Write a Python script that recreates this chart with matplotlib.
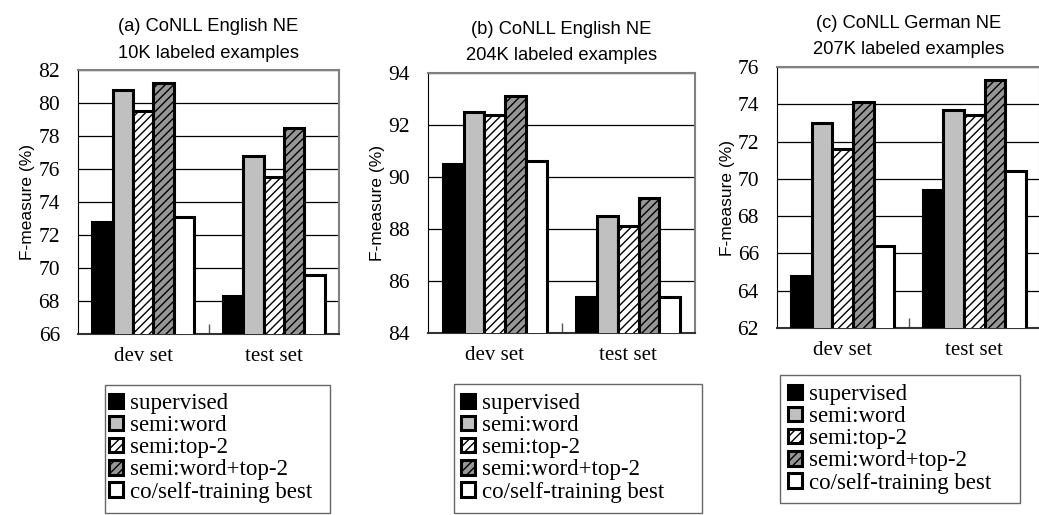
import numpy as np
import matplotlib
matplotlib.use("Agg")
import matplotlib.pyplot as plt
from matplotlib.patches import Patch, Rectangle

plt.rcParams['hatch.linewidth'] = 1.0

groups = ["dev set", "test set"]
series = ["supervised", "semi:word", "semi:top-2", "semi:word+top-2", "co/self-training best"]

# F-measure values per panel: rows follow `series`, columns follow `groups`
eng10k = [[72.8, 68.3], [80.8, 76.8], [79.5, 75.5], [81.2, 78.5], [73.1, 69.6]]
eng204k = [[90.5, 85.4], [92.5, 88.5], [92.4, 88.1], [93.1, 89.2], [90.6, 85.4]]
ger207k = [[64.8, 69.4], [73.0, 73.7], [71.6, 73.4], [74.1, 75.3], [66.4, 70.4]]

titles = ["(a) CoNLL English NE\n10K labeled examples",
          "(b) CoNLL English NE\n204K labeled examples",
          "(c) CoNLL German NE\n207K labeled examples"]
yticks_list = [list(range(66, 83, 2)), list(range(84, 95, 2)), list(range(62, 77, 2))]

fills = ["black", "#c0c0c0", "white", "#969696", "white"]
hatches = [None, None, "////", "////", None]

W, H = 1039, 515
fig = plt.figure(figsize=(W / 100, H / 100), dpi=100)

# axes boxes in pixels: left, top, right, bottom
boxes = [(78, 70, 339, 334), (428, 73, 695, 333), (777, 67, 1040, 328)]
# legend frames in pixels: left, top, right, bottom
legend_boxes = [(105, 385, 330, 513), (454, 384, 702, 513), (780, 375, 1020, 503)]
legend_first = [(109, 393), (461, 393), (788, 384)]

serif = "Liberation Serif"
sans = "Liberation Sans"

for k, (data, title, yt) in enumerate(zip([eng10k, eng204k, ger207k], titles, yticks_list)):
    l, t, r, b = boxes[k]
    ax = fig.add_axes([l / W, 1 - b / H, (r - l) / W, (b - t) / H])
    x = np.arange(len(groups))
    bw = 0.156
    for i, name in enumerate(series):
        vals = [data[i][j] for j in range(len(groups))]
        ax.bar(x + (i - 2) * bw, vals, width=bw, color=fills[i],
               hatch=hatches[i], edgecolor="black", linewidth=2.2, zorder=3,
               label=name)
    ax.set_ylim(yt[0], yt[-1])
    ax.set_xlim(-0.5, 1.5)
    ax.set_yticks(yt)
    ax.set_yticklabels([str(v) for v in yt], fontfamily=serif, fontsize=15.5)
    ax.yaxis.grid(True, color="black", linewidth=0.9, zorder=0)
    ax.set_xticks([0.5])
    ax.set_xticklabels([""])
    ax.tick_params(axis="x", direction="in", length=7, width=1, color="#555555")
    ax.tick_params(axis="y", length=0, pad=13)
    for j, g in enumerate(groups):
        ax.text(j, -0.085, g, transform=ax.get_xaxis_transform(), ha="center",
                va="center", fontfamily=serif, fontsize=15)
    ax.set_ylabel("F-measure (%)", fontfamily=sans, fontsize=12.5, labelpad=2)
    ax.set_title(title, fontfamily=sans, fontsize=13.2, linespacing=1.7, pad=9)
    ax.spines["top"].set_color("#808080")
    ax.spines["right"].set_color("#808080")
    ax.spines["top"].set_linewidth(1.5)
    ax.spines["right"].set_linewidth(1.5)
    ax.spines["left"].set_color("black")
    ax.spines["bottom"].set_color("#333333")
    ax.spines["bottom"].set_linewidth(1.5)
    ax.set_axisbelow(True)

    ll, lt, lr, lb = legend_boxes[k]
    fig.add_artist(Rectangle((ll / W, 1 - lb / H), (lr - ll) / W, (lb - lt) / H,
                             transform=fig.transFigure, facecolor="white",
                             edgecolor="#666666", linewidth=1.0, zorder=1))
    handles = [Patch(facecolor=fills[i], hatch=hatches[i], edgecolor="black",
                     linewidth=2.2, label=series[i]) for i in range(len(series))]
    fx, fy = legend_first[k]
    leg = fig.legend(handles=handles, loc="upper left",
                     bbox_to_anchor=(fx / W, 1 - fy / H),
                     frameon=False, borderpad=0, borderaxespad=0,
                     prop={"family": serif, "size": 16.5}, handlelength=0.6,
                     handleheight=0.6, handletextpad=0.3, labelspacing=0.05)
    leg.set_zorder(2)

fig.savefig("out.png", dpi=100)
